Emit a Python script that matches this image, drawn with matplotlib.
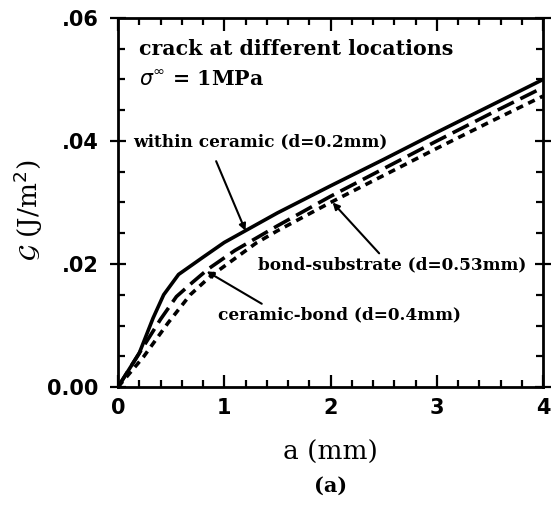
import numpy as np
import matplotlib.pyplot as plt
from matplotlib.ticker import MultipleLocator

# crack within ceramic (d=0.2mm)
a_ceramic = [0, 0.2, 0.33, 0.43, 0.57, 0.8, 1.0, 1.5, 2.0, 2.5, 3.0, 3.5, 4.0]
g_ceramic = [0, 0.0055, 0.0112, 0.0150, 0.0183, 0.0211, 0.0235, 0.0283, 0.0327, 0.0370, 0.0414, 0.0457, 0.0500]

# crack at ceramic-bond interface (d=0.4mm)
a_cb = [0, 0.2, 0.4, 0.55, 0.7, 0.85, 1.1, 1.5, 2.0, 2.5, 3.0, 3.5, 4.0]
g_cb = [0, 0.0055, 0.0110, 0.0147, 0.0170, 0.0192, 0.0222, 0.0262, 0.0310, 0.0355, 0.0400, 0.0444, 0.0487]

# crack at bond-substrate interface (d=0.53mm)
a_bs = [0, 0.24, 0.47, 0.68, 0.87, 1.3, 1.5, 2.0, 2.5, 3.0, 3.5, 4.0]
g_bs = [0, 0.0049, 0.0104, 0.0150, 0.0180, 0.0234, 0.0254, 0.0300, 0.0344, 0.0388, 0.0431, 0.0473]

xticks = [0, 1, 2, 3, 4]
yticks = [0.0, 0.02, 0.04, 0.06]
yticklabels = ['0.00', '.02', '.04', '.06']

fig = plt.figure(figsize=(5.51, 5.08), dpi=100)
ax = fig.add_axes([118/551, 1 - 387/508, 425/551, 369/508])

ax.plot(a_ceramic, g_ceramic, color='black', lw=2.6, solid_joinstyle='round')
ax.plot(a_cb, g_cb, color='black', lw=2.6, dashes=(5, 2))
ax.plot(a_bs, g_bs, color='black', lw=2.6, dashes=(2, 1.6))

ax.set_xlim(0, 4)
ax.set_ylim(0, 0.06)
ax.set_xticks(xticks)
ax.set_yticks(yticks)
ax.set_yticklabels(yticklabels)
ax.xaxis.set_minor_locator(MultipleLocator(0.2))
ax.yaxis.set_minor_locator(MultipleLocator(0.005))
ax.tick_params(which='both', direction='in', top=True, right=True, width=1.6)
ax.tick_params(which='major', length=9, labelsize=15, pad=8)
ax.tick_params(axis='y', which='major', direction='inout', length=12)
ax.tick_params(which='minor', length=5)
for lab in ax.get_xticklabels() + ax.get_yticklabels():
    lab.set_fontweight('bold')
for sp in ax.spines.values():
    sp.set_linewidth(2)

ax.set_xlabel('a (mm)', family='DejaVu Serif', fontsize=19, labelpad=16)
ax.set_ylabel(r'$\mathcal{G}$ (J/m$^2$)', family='DejaVu Serif', fontsize=19)
ax.yaxis.set_label_coords(-0.172, 0.48)
fig.text(0.5 * (118 + 543) / 551, 1 - 486/508, '(a)', family='DejaVu Serif',
         fontsize=15, fontweight='bold', ha='center', va='center')

hfont = dict(family='DejaVu Serif', fontweight='bold', fontsize=14.8)
tfont = dict(family='DejaVu Serif', fontweight='bold', fontsize=12.2)
ax.text(0.2, 0.0549, 'crack at different locations', va='center', **hfont)
ax.text(0.2, 0.0500, r'$\sigma^{\infty}$ = 1MPa', va='center', **hfont)
ax.annotate('within ceramic (d=0.2mm)', xy=(1.2, 0.0254), xytext=(0.14, 0.0398),
            va='center', arrowprops=dict(arrowstyle='-|>', color='black', lw=1.5,
                                         shrinkA=6, shrinkB=0, mutation_scale=10,
                                         relpos=(0.31, 0.0)), **tfont)
ax.annotate('bond-substrate (d=0.53mm)', xy=(2.02, 0.0300), xytext=(1.32, 0.0199),
            va='center', arrowprops=dict(arrowstyle='-|>', color='black', lw=1.5,
                                         shrinkA=0, shrinkB=0, mutation_scale=10,
                                         relpos=(0.46, 1.0)), **tfont)
ax.annotate('ceramic-bond (d=0.4mm)', xy=(0.835, 0.0188), xytext=(0.94, 0.0117),
            va='center', arrowprops=dict(arrowstyle='-|>', color='black', lw=1.5,
                                         shrinkA=0, shrinkB=0, mutation_scale=10,
                                         relpos=(0.2, 1.0)), **tfont)

fig.savefig('out.png', dpi=100)
